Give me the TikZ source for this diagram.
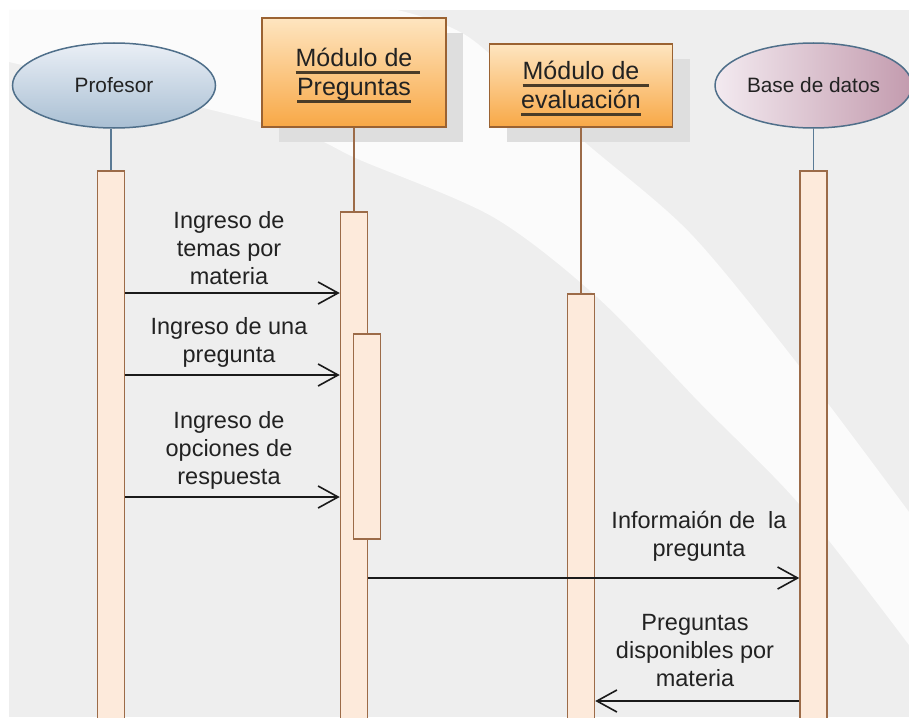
\documentclass[tikz,border=0pt]{standalone}
\usepackage{fontspec}
\setmainfont{Liberation Sans}
\usetikzlibrary{shapes.geometric,arrows.meta,shadows}
\definecolor{bggray}{HTML}{EEEEEE}
\definecolor{bandwhite}{HTML}{FBFBFB}
\definecolor{shadowgray}{HTML}{DEDEDE}
\definecolor{actfill}{HTML}{FDEADB}
\definecolor{actdraw}{HTML}{9C6B48}
\definecolor{boxtop}{HTML}{FEE5C0}
\definecolor{boxbot}{HTML}{F8A846}
\definecolor{boxdraw}{HTML}{9A6232}
\definecolor{proftop}{HTML}{EAEFF6}
\definecolor{profbot}{HTML}{A9BFD3}
\definecolor{dbleft}{HTML}{F3EAF0}
\definecolor{dbright}{HTML}{C39BAE}
\definecolor{ovaldraw}{HTML}{4F6F8A}
\definecolor{lineblue}{HTML}{5A7A95}
\definecolor{ulcol}{HTML}{4A3C28}
\definecolor{txt}{HTML}{222222}
\definecolor{msgcol}{HTML}{1A1A1A}
\newcommand\ulword[2][0pt]{\setbox0\hbox{#2}\rlap{\color{ulcol}\rule[-7.3pt]{\dimexpr\wd0+#1\relax}{3pt}}\box0}

\begin{document}
\begin{tikzpicture}[x=1pt,y=-1pt,
		act/.style={draw=actdraw,fill=actfill,line width=1.5pt,minimum width=27pt,anchor=north,inner sep=0pt},
		actor/.style={ellipse,draw=ovaldraw,line width=1.5pt,minimum width=203pt,minimum height=85pt,inner sep=0pt,text=txt,font=\fontsize{20.8}{24}\selectfont},
		modbox/.style={draw=boxdraw,line width=1.5pt,top color=boxtop,bottom color=boxbot,inner sep=0pt,align=center,text=txt,font=\fontsize{25}{28.6}\selectfont,
			drop shadow={shadow xshift=17pt,shadow yshift=-15pt,fill=shadowgray,opacity=1}},
		lifeb/.style={draw=lineblue,line width=1.5pt},
		lifem/.style={draw=actdraw,line width=1.5pt},
		msg/.style={draw=msgcol,line width=1.6pt,-{Straight Barb[length=20pt,width=22pt]}},
		lbl/.style={align=center,anchor=south,inner sep=0pt,text=txt,font=\fontsize{23.5}{28}\selectfont}]
				\useasboundingbox (0,0) rectangle (909,717);
				\fill[bggray] (9,10) rectangle (909,717);
				\fill[bandwhite] (9,10) -- (397,10)
					-- plot[smooth] coordinates {(397,10) (470,38) (580,138) (690,233) (800,367) (909,512)}
					-- (909,645)
					-- plot[smooth] coordinates {(909,645) (800,505) (700,403) (597,297) (493,217) (360,160) (300,133) (150,95) (9,62)}
					-- cycle;
				
				\node[actor,top color=proftop,bottom color=profbot] (prof) at (114,85.5) {Profesor};
				\node[actor,left color=dbleft,right color=dbright,minimum width=197pt] (db) at (813.5,85.5) {Base de datos};
				\node[modbox,minimum width=184pt,minimum height=109pt] (preg) at (354,72.5) {\rule{0pt}{24.5pt}\ulword[8pt]{Módulo de}\\\ulword{Preguntas}};
				\node[modbox,minimum width=183pt,minimum height=83pt] (eval) at (581,85.5) {\rule{0pt}{24.5pt}\ulword[10pt]{Módulo de}\\\ulword{evaluación}};
				
				\node[act,minimum height=560pt] (aProf) at (111,170) {};
				\node[act,minimum height=520pt] (aPreg) at (354,211) {};
				\node[act,minimum height=205pt] (aPreg2) at (367,333) {};
				\node[act,minimum height=440pt] (aEval) at (581,293) {};
				\node[act,minimum height=560pt] (aDb) at (813.5,170) {};
				
				\draw[lifeb] (aProf.north) -- (aProf.north |- prof.south);
				\draw[lifem] (preg.south) -- (aPreg.north);
				\draw[lifem] (eval.south) -- (aEval.north);
				\draw[lifeb] (db.south) -- (aDb.north);
				
				\coordinate (m1) at (0,293);
				\coordinate (m2) at (0,375);
				\coordinate (m3) at (0,497);
				\coordinate (m4) at (0,578);
				\coordinate (m5) at (0,701);
				\draw[msg] (aProf.east |- m1) -- (aPreg.west |- m1);
				\draw[msg] (aProf.east |- m2) -- (aPreg.west |- m2);
				\draw[msg] (aProf.east |- m3) -- (aPreg.west |- m3);
				\draw[msg] (aPreg.east |- m4) -- (aDb.west |- m4);
				\draw[msg] (aDb.west |- m5) -- (aEval.east |- m5);
				
				\node[lbl] (lTemas) at (229,293) {Ingreso de\\temas por\\materia\strut};
				\node[lbl] (lPreg) at (229,371) {Ingreso de una\\pregunta\strut};
				\node[lbl] (lOpc) at (229,493.4) {Ingreso de\\opciones de\\respuesta\strut};
				\node[lbl] (lInfo) at (699,565.4) {Informaión de\ \ la\\pregunta\strut};
				\node[lbl] (lDisp) at (695,695.4) {Preguntas\\disponibles por\\materia\strut};
			\end{tikzpicture}
\end{document}
